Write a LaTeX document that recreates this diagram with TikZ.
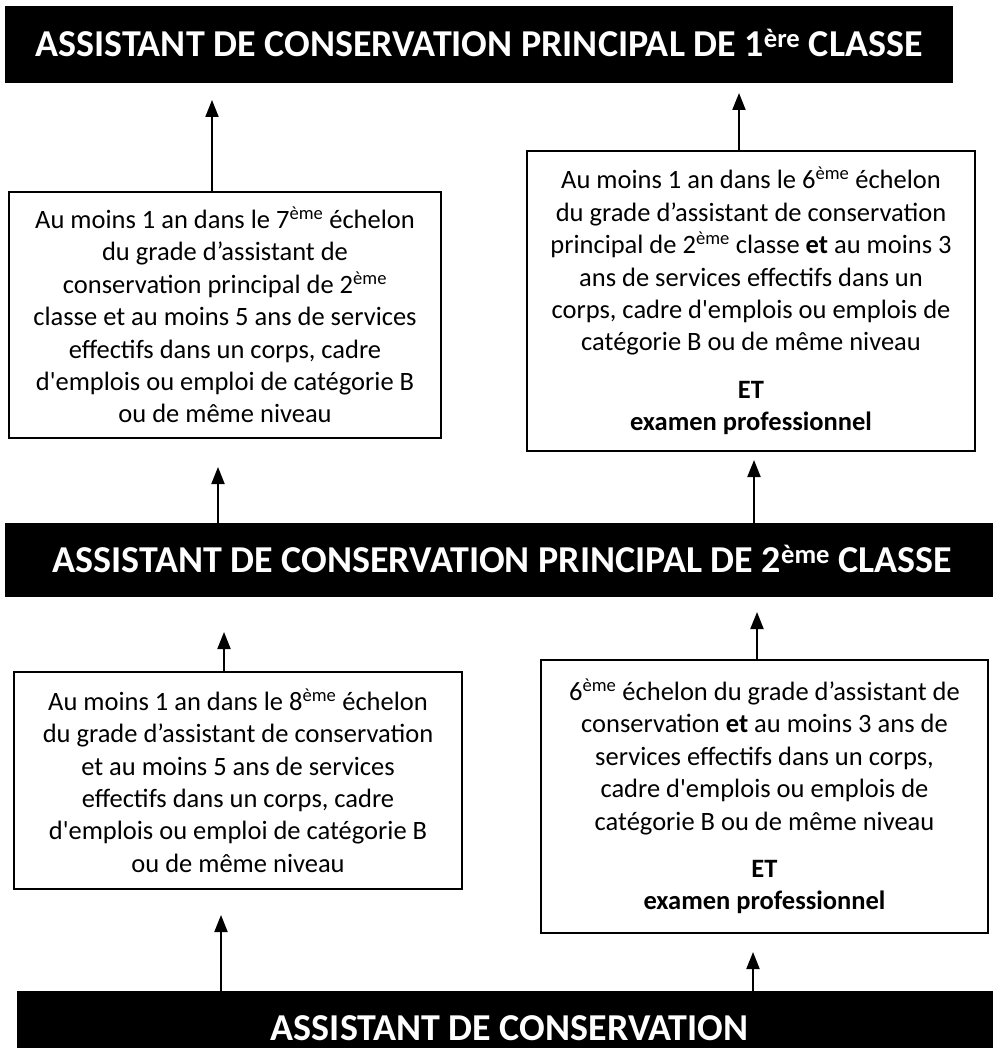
\documentclass[tikz,border=0pt]{standalone}
\usepackage{fontspec}
\newfontfamily\calib{Carlito}
\usetikzlibrary{arrows.meta}
\tikzset{
  banner/.style={fill=black, text=white, inner sep=0pt,
    font=\calib\bfseries\fontsize{38}{42}\selectfont,
    text height=24.5pt, text depth=0pt},
  cond/.style={draw=black, line width=1.6pt, fill=white, align=center, inner sep=0pt,
    font=\calib\fontsize{26.5}{32.4}\selectfont},
  arr/.style={line width=2pt, -{Triangle[length=17pt,width=13pt]}},
}
\begin{document}
\begin{tikzpicture}[x=1pt,y=-1pt]
\fill[white] (0,0) rectangle (992,1048);
\useasboundingbox (0,0) rectangle (992,1048);

% banners
\node[banner, minimum width=948pt, minimum height=77pt] (b1) at (479,44.5)
  {ASSISTANT DE CONSERVATION PRINCIPAL DE 1\textsuperscript{ère} CLASSE};
\node[banner, minimum width=995pt, minimum height=74pt] (b2) at (502.5,560)
  {ASSISTANT DE CONSERVATION PRINCIPAL DE 2\textsuperscript{ème} CLASSE};
\node[banner, minimum width=985pt, minimum height=74pt] (b3) at (509.5,1028)
  {ASSISTANT DE CONSERVATION};

% condition boxes
\node[cond, minimum width=432pt, minimum height=246pt] (lb1) at (225,315)
  {Au moins 1 an dans le 7\textsuperscript{ème} échelon\\
   du grade d’assistant de\\
   conservation principal de 2\textsuperscript{ème}\\
   classe et au moins 5 ans de services\\
   effectifs dans un corps, cadre\\
   d'emplois ou emploi de catégorie B\\
   ou de même niveau};
\node[cond, minimum width=448pt, minimum height=300pt] (rb1) at (751,301)
  {Au moins 1 an dans le 6\textsuperscript{ème} échelon\\
   du grade d’assistant de conservation\\
   principal de 2\textsuperscript{ème} classe \textbf{et} au moins 3\\
   ans de services effectifs dans un\\
   corps, cadre d'emplois ou emplois de\\
   catégorie B ou de même niveau\\[15pt]
   \textbf{ET}\\
   \textbf{examen professionnel}};
\node[cond, minimum width=448pt, minimum height=217pt] (lb2) at (238,780.5)
  {Au moins 1 an dans le 8\textsuperscript{ème} échelon\\
   du grade d’assistant de conservation\\
   et au moins 5 ans de services\\
   effectifs dans un corps, cadre\\
   d'emplois ou emploi de catégorie B\\
   ou de même niveau};
\node[cond, minimum width=447pt, minimum height=273pt] (rb2) at (764.5,796.5)
  {6\textsuperscript{ème} échelon du grade d’assistant de\\
   conservation \textbf{et} au moins 3 ans de\\
   services effectifs dans un corps,\\
   cadre d'emplois ou emplois de\\
   catégorie B ou de même niveau\\[15pt]
   \textbf{ET}\\
   \textbf{examen professionnel}};

% arrow tips
\coordinate (t1) at (212,100);
\coordinate (t2) at (739,93);
\coordinate (t3) at (218,467);
\coordinate (t4) at (754,460);
\coordinate (t5) at (224,632);
\coordinate (t6) at (757,612);
\coordinate (t7) at (221,915);
\coordinate (t8) at (753,952);

\draw[arr] (lb1.north -| t1) -- (t1);
\draw[arr] (rb1.north -| t2) -- (t2);
\draw[arr] (b2.north -| t3) -- (t3);
\draw[arr] (b2.north -| t4) -- (t4);
\draw[arr] (lb2.north -| t5) -- (t5);
\draw[arr] (rb2.north -| t6) -- (t6);
\draw[arr] (b3.north -| t7) -- (t7);
\draw[arr] (b3.north -| t8) -- (t8);
\end{tikzpicture}
\end{document}
